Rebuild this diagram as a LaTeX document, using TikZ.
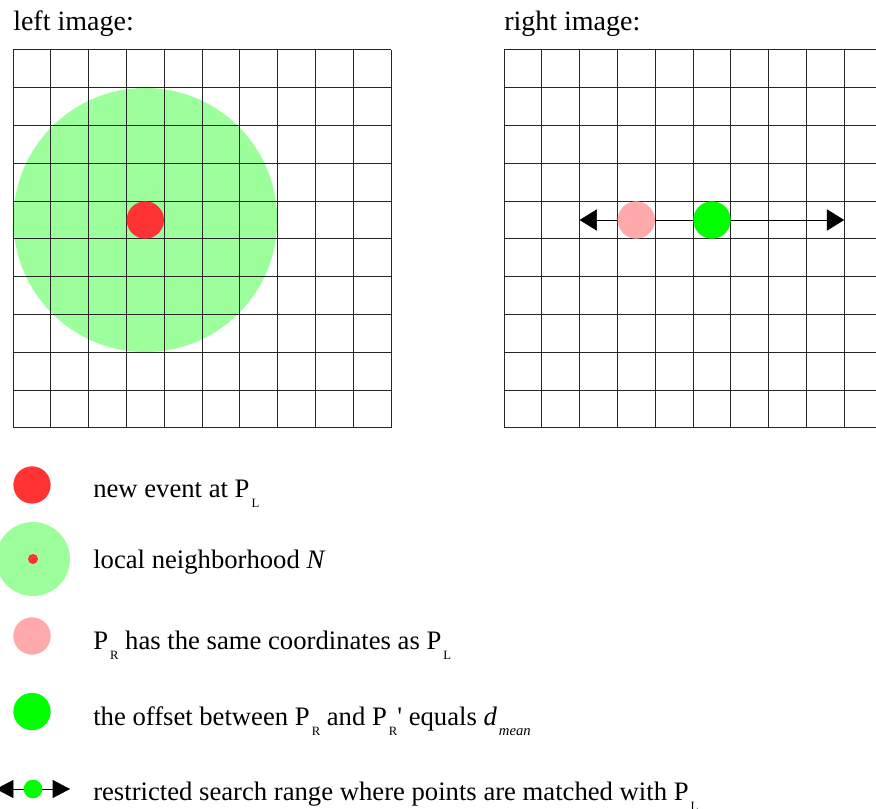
\documentclass[tikz,border=0pt]{standalone}
\usepackage{fontspec}
\setmainfont{Liberation Serif}
\newfontfamily\plainserif{Liberation Serif}
\usetikzlibrary{arrows.meta}

\definecolor{eventred}{RGB}{255,51,51}
\definecolor{nbgreen}{RGB}{156,255,156}
\definecolor{palered}{RGB}{255,170,170}
\definecolor{matchgreen}{RGB}{0,255,0}

% small lowered index, as in P_L
\newcommand{\lowsub}[2][9.5]{\hspace{1.5pt}\raisebox{-7.5pt}{\fontsize{#1}{#1}\selectfont #2}}

\begin{document}
\begin{tikzpicture}[
    x=0.75pt, y=-0.75pt,
    spot/.style={circle, inner sep=0pt, minimum size=28pt},
    gridline/.style={line width=0.75pt, black!85},
    headtext/.style={anchor=base west, inner sep=0pt, font=\fontsize{21}{25}\selectfont},
    legtext/.style={anchor=base west, inner sep=0pt, font=\fontsize{20}{24}\selectfont},
    searchrange/.style={line width=0.5pt, black, {Triangle[length=13pt, width=16pt]}-{Triangle[length=13pt, width=16pt]}}
]

\useasboundingbox (0,0) rectangle (876,809);

% Headings
\node[headtext] (lefthead) at (13,31) {left image:};
\node[headtext] (righthead) at (504,31) {right image:};

% Left image
\node[spot, fill=nbgreen, minimum size=198pt] (nbhd) at (145.3,220) {};
\foreach \i in {0,...,10} {
  \draw[gridline] (13+\i*37.8,50) -- (13+\i*37.8,428);
  \draw[gridline] (13,50+\i*37.8) -- (391,50+\i*37.8);
}
\node[spot, fill=eventred] (event) at (145.3,220) {};

% Right image
\foreach \i in {0,...,10} {
  \draw[gridline] (504+\i*37.8,50) -- (504+\i*37.8,428);
  \draw[gridline] (504,50+\i*37.8) -- (882,50+\i*37.8);
}
\coordinate (rangeL) at (579.6,220);
\coordinate (rangeR) at (844.2,220);
\draw[searchrange] (rangeL) -- (rangeR);
\node[spot, fill=palered] (samepos) at (636.3,220) {};
\node[spot, fill=matchgreen] (offset) at (712,220) {};

% Legend
\node[spot, fill=eventred] (keyevent) at (32,485) {};
\node[spot, fill=nbgreen, minimum size=55.5pt] (keynbhd) at (33,559) {};
\node[spot, fill=eventred, minimum size=7.5pt] (keycentre) at (keynbhd) {};
\node[spot, fill=palered] (keysame) at (32,636) {};
\node[spot, fill=matchgreen] (keyoffset) at (32,711.5) {};
\coordinate (keyL) at (-4,789);
\coordinate (keyR) at (70,789);
\draw[searchrange, {Triangle[length=13pt, width=13.5pt]}-{Triangle[length=13pt, width=13.5pt]}] (keyL) -- (keyR);
\node[spot, fill=matchgreen, minimum size=14pt] (keymatch) at (33,789) {};

\node[legtext] (txtevent) at (93,498) {new event at P\lowsub{L}};
\node[legtext] (txtnbhd) at (93,569) {local neighborhood \textit{N}};
\node[legtext] (txtsame) at (93,649) {P\lowsub{R} has the same coordinates as P\lowsub{L}};
\node[legtext] (txtoffset) at (93,725) {the offset between P\lowsub{R} and P\lowsub{R}{\plainserif '} equals \textit{d}\lowsub[11]{\itshape mean}};
\node[legtext] (txtrange) at (93,800) {restricted search range where points are matched with P\lowsub{L}};

\end{tikzpicture}
\end{document}
